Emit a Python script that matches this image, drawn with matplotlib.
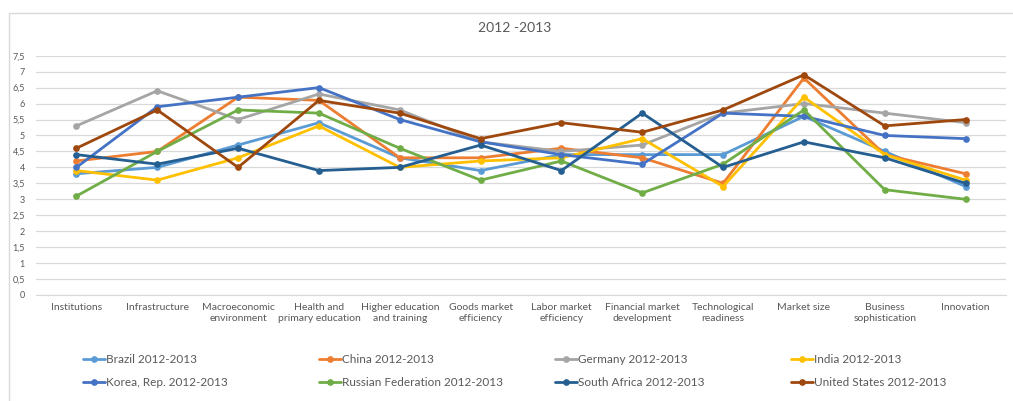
import matplotlib
matplotlib.use("Agg")
import matplotlib.pyplot as plt
from matplotlib.patches import Rectangle
from matplotlib.ticker import FuncFormatter, MultipleLocator

plt.rcParams['font.family'] = ['Lato', 'DejaVu Sans']

categories = [
    "Institutions", "Infrastructure", "Macroeconomic\nenvironment",
    "Health and\nprimary education", "Higher education\nand training",
    "Goods market\nefficiency", "Labor market\nefficiency",
    "Financial market\ndevelopment", "Technological\nreadiness",
    "Market size", "Business\nsophistication", "Innovation",
]

brazil       = [3.8, 4.0, 4.7, 5.4, 4.3, 3.9, 4.4, 4.4, 4.4, 5.6, 4.5, 3.4]
china        = [4.2, 4.5, 6.2, 6.1, 4.3, 4.3, 4.6, 4.3, 3.5, 6.8, 4.4, 3.8]
germany      = [5.3, 6.4, 5.5, 6.3, 5.8, 4.8, 4.5, 4.7, 5.7, 6.0, 5.7, 5.4]
india        = [3.9, 3.6, 4.3, 5.3, 4.0, 4.2, 4.3, 4.9, 3.4, 6.2, 4.4, 3.6]
korea        = [4.0, 5.9, 6.2, 6.5, 5.5, 4.8, 4.4, 4.1, 5.7, 5.6, 5.0, 4.9]
russia       = [3.1, 4.5, 5.8, 5.7, 4.6, 3.6, 4.2, 3.2, 4.1, 5.8, 3.3, 3.0]
south_africa = [4.4, 4.1, 4.6, 3.9, 4.0, 4.7, 3.9, 5.7, 4.0, 4.8, 4.3, 3.5]
united_states = [4.6, 5.8, 4.0, 6.1, 5.7, 4.9, 5.4, 5.1, 5.8, 6.9, 5.3, 5.5]

series = [
    ("Brazil 2012-2013", brazil, "#5B9BD5"),
    ("China 2012-2013", china, "#ED7D31"),
    ("Germany 2012-2013", germany, "#A5A5A5"),
    ("India 2012-2013", india, "#FFC000"),
    ("Korea, Rep. 2012-2013", korea, "#4472C4"),
    ("Russian Federation 2012-2013", russia, "#70AD47"),
    ("South Africa 2012-2013", south_africa, "#255E91"),
    ("United States 2012-2013", united_states, "#9E480E"),
]

W, H = 1013, 401
fig = plt.figure(figsize=(W / 100, H / 100), dpi=100)

# chart frame
fig.patches.append(Rectangle((9 / W, -0.05), 1.1, 1 - 13 / H + 0.05,
                             transform=fig.transFigure, fill=False,
                             edgecolor="#d9d9d9", linewidth=1.0))

left, right = 36 / W, 1006 / W
bottom, top = 1 - 295 / H, 1 - 55.7 / H
ax = fig.add_axes([left, bottom, right - left, top - bottom])

x = list(range(len(categories)))
handles = []
for label, vals, color in series:
    h, = ax.plot(x, vals, color=color, linewidth=2.0, marker="o",
                 markersize=3.8, label=label, solid_capstyle="round")
    handles.append(h)

ax.set_xlim(-0.5, len(categories) - 0.5)
ax.set_ylim(0, 7.5)
ax.yaxis.set_major_locator(MultipleLocator(0.5))
ax.yaxis.set_major_formatter(FuncFormatter(
    lambda v, p: (f"{v:g}").replace(".", ",")))
ax.grid(axis="y", color="#d9d9d9", linewidth=0.9)
ax.set_axisbelow(True)
for s in ["top", "right", "left"]:
    ax.spines[s].set_visible(False)
ax.spines["bottom"].set_color("#d9d9d9")
ax.tick_params(axis="both", length=0, colors="#595959")
ax.tick_params(axis="y", labelsize=6.5, pad=8)
ax.set_xticks(x)
ax.set_xticklabels(categories, fontsize=7.5, color="#595959",
                   linespacing=1.25, va="top")
ax.tick_params(axis="x", pad=6)

fig.text(515 / W, 1 - 28 / H, "2012 -2013", ha="center", va="center",
         fontsize=10, color="#595959")

# legend laid out in four equal columns
col_x = [83, 319, 555, 791]
for i, cx in enumerate(col_x):
    leg = fig.legend([handles[i], handles[i + 4]],
                     [series[i][0], series[i + 4][0]],
                     loc="upper left", bbox_to_anchor=(cx / W, 1 - 354 / H),
                     frameon=False, fontsize=8.5, handlelength=1.9,
                     handletextpad=0.05, labelspacing=1.0,
                     borderaxespad=0, borderpad=0)
    for t in leg.get_texts():
        t.set_color("#595959")

fig.savefig("out.png", dpi=100, facecolor="white")
